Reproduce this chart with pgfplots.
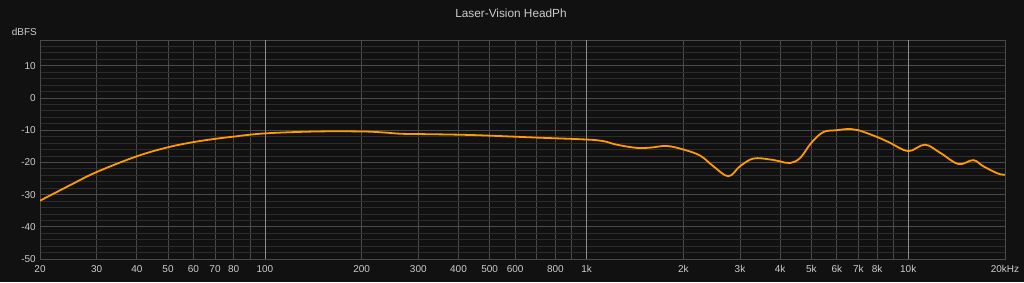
\documentclass[border=0pt]{standalone}
\usepackage{pgfplots}
\pgfplotsset{compat=1.18}
\usepackage{fontspec}
\setmainfont{Liberation Sans}
\definecolor{bgc}{HTML}{111111}
\definecolor{txt}{HTML}{CCCCCC}
\definecolor{minorg}{HTML}{2C2C2C}
\definecolor{majorg}{HTML}{4A4A4A}
\definecolor{decg}{HTML}{8E8E8E}
\definecolor{curve}{HTML}{FF9A00}
\begin{document}
\begin{tikzpicture}
\path[use as bounding box] (0pt,0pt) rectangle (1024pt,282pt);
\fill[bgc] (0pt,0pt) rectangle (1024pt,282pt);
\node[text=txt, font=\fontsize{11.8}{13}\selectfont] at (511pt,269pt) {Laser-Vision HeadPh};
\node[text=txt, font=\fontsize{10}{12}\selectfont, anchor=east, inner sep=0pt] at (37pt,250pt) {dBFS};
\begin{axis}[
  at={(40pt,23pt)}, anchor=south west,
  scale only axis, width=965pt, height=219pt,
  xmode=log, xmin=20, xmax=20000, ymin=-50, ymax=18,
  axis line style={majorg},
  tick style={draw=none},
  major tick length=0pt, minor tick length=0pt,
  xtick={20,30,40,50,60,70,80,90,200,300,400,500,600,700,800,900,2000,3000,4000,5000,6000,7000,8000,9000,20000},
  xticklabels={20,30,40,50,60,70,80,{},200,300,400,500,600,{},800,{},2k,3k,4k,5k,6k,7k,8k,{},20kHz},
  extra x ticks={100,1000,10000},
  extra x tick labels={100,1k,10k},
  extra x tick style={major grid style={color=decg, line width=0.7pt}},
  ytick={-50,-40,-30,-20,-10,0,10},
  yticklabels={-50,-40,-30,-20,-10,0,10},
  minor ytick={-48,-46,-44,-42,-38,-36,-34,-32,-28,-26,-24,-22,-18,-16,-14,-12,-8,-6,-4,-2,2,4,6,8,12,14,16},
  grid=both,
  major grid style={color=majorg, line width=0.8pt},
  minor grid style={color=minorg, line width=0.8pt},
  ticklabel style={text=txt, font=\fontsize{10}{12}\selectfont, inner sep=0pt},
  xticklabel style={anchor=north, yshift=-6pt},
  yticklabel style={anchor=east, xshift=-4pt},
  clip=true,
]
\addplot[curve, line width=1.8pt, smooth, tension=0.6] coordinates {
(20,-31.9) (25,-26.9) (30,-23.0) (40,-18.1) (50,-15.3) (60,-13.7)
(70,-12.7) (80,-12.0) (100,-11.0) (145,-10.4) (200,-10.4) (233,-10.7)
(263,-11.1) (300,-11.2) (400,-11.4) (500,-11.7) (700,-12.3) (1000,-12.9)
(1128,-13.4) (1241,-14.5) (1433,-15.5) (1585,-15.4) (1774,-14.9) (2000,-16.0)
(2256,-17.9) (2479,-21.2) (2760,-24.3) (3000,-21.2) (3302,-18.8) (3720,-19.1)
(4000,-19.7) (4295,-20.2) (4618,-18.6) (5000,-13.9) (5446,-10.6) (6000,-10.0)
(6592,-9.6) (7000,-10.0) (8000,-12.1) (8774,-13.9) (10000,-16.5) (11270,-14.5)
(12560,-17.0) (14330,-20.5) (15930,-19.3) (17120,-21.2) (19050,-23.5) (20000,-23.8)
};
\end{axis}
\end{tikzpicture}
\end{document}
